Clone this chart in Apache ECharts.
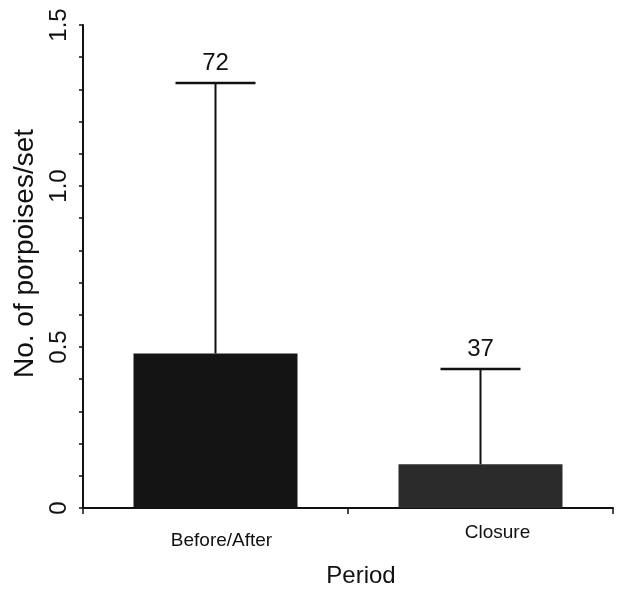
<!DOCTYPE html>
<html>
<head>
<meta charset="utf-8">
<script src="https://cdn.jsdelivr.net/npm/echarts@6/dist/echarts.min.js"></script>
<style>
html,body{margin:0;padding:0;background:#fff;}
#chart{width:617px;height:593px;}
</style>
</head>
<body>
<div id="chart"></div>
<script>
var categories = ['Before/After', 'Closure'];
var means = [0.48, 0.136];
var upperErr = [1.32, 0.432];
var sampleSizes = ['72', '37'];
var yTicks = [0, 0.5, 1.0, 1.5];

var FONT = '"Liberation Sans", Arial, sans-serif';
var chart = echarts.init(document.getElementById('chart'));

var catPads = [[8, 0, 0, 12], [0, 0, 0, 34]];

var option = {
  animation: false,
  backgroundColor: '#fff',
  grid: { left: 83, width: 530, top: 25, bottom: 82, containLabel: false },
  xAxis: {
    type: 'category',
    data: categories.map(function (c, i) {
      return { value: c, textStyle: { padding: catPads[i] } };
    }),
    name: 'Period',
    nameLocation: 'middle',
    nameGap: 56,
    nameTextStyle: { fontFamily: FONT, fontSize: 24, color: '#111', padding: [0, 0, 0, 26] },
    axisLine: { lineStyle: { color: '#111', width: 2 } },
    axisTick: { show: true, length: 6, lineStyle: { color: '#111', width: 1.5 } },
    axisLabel: { fontFamily: FONT, fontSize: 19, color: '#111', margin: 15 },
    splitLine: { show: false }
  },
  yAxis: {
    type: 'value',
    min: 0,
    max: yTicks[yTicks.length - 1],
    interval: 0.5,
    name: 'No. of porpoises/set',
    nameLocation: 'middle',
    nameGap: 44,
    nameTextStyle: { fontFamily: FONT, fontSize: 28, color: '#111', padding: [0, 0, 0, 26] },
    axisLine: { show: true, lineStyle: { color: '#111', width: 2 } },
    axisTick: { show: true, length: 4, lineStyle: { color: '#111', width: 1.5 } },
    minorTick: { show: true, splitNumber: 5, length: 4, lineStyle: { color: '#111', width: 1.5 } },
    axisLabel: {
      fontFamily: FONT, fontSize: 24, color: '#111', rotate: 90, margin: 12,
      formatter: function (v) { return v === 0 ? '0' : v.toFixed(1); }
    },
    splitLine: { show: false }
  },
  series: [
    {
      type: 'bar',
      data: means.map(function (v, i) {
        return { value: v, itemStyle: { color: i === 0 ? '#141414' : '#2b2b2b' } };
      }),
      barWidth: 164,
      itemStyle: { color: '#141414' },
      z: 2
    },
    {
      type: 'custom',
      data: upperErr.map(function (u, i) { return [i, means[i], u, sampleSizes[i]]; }),
      z: 3,
      renderItem: function (params, api) {
        var i = api.value(0);
        var base = api.coord([i, api.value(1)]);
        var top = api.coord([i, api.value(2)]);
        var hw = 40;
        return {
          type: 'group',
          children: [
            { type: 'line', shape: { x1: top[0], y1: base[1], x2: top[0], y2: top[1] }, style: { stroke: '#111', lineWidth: 2 } },
            { type: 'line', shape: { x1: top[0] - hw, y1: top[1], x2: top[0] + hw, y2: top[1] }, style: { stroke: '#111', lineWidth: 2.5 } },
            { type: 'text', style: { text: sampleSizes[params.dataIndex], x: top[0], y: top[1] - 8, align: 'center', verticalAlign: 'bottom', fontFamily: FONT, fontSize: 24, fill: '#111' } }
          ]
        };
      }
    }
  ]
};
chart.setOption(option);
</script>
</body>
</html>
